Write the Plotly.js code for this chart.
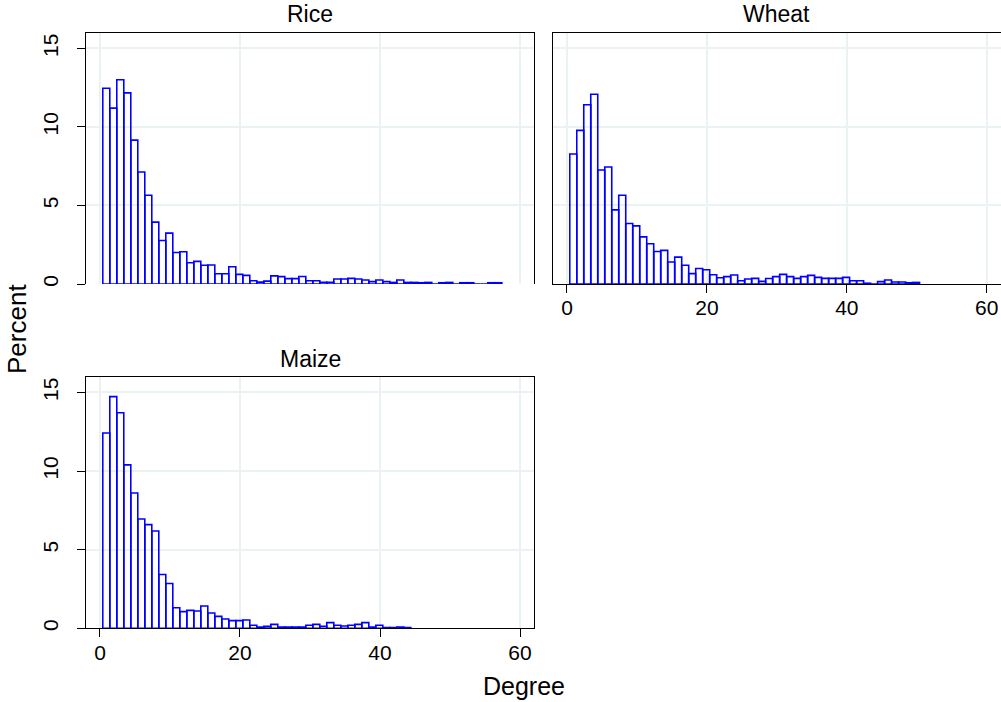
<!DOCTYPE html>
<html>
<head>
<meta charset="utf-8">
<script src="https://cdn.plot.ly/plotly-3.0.1.min.js"></script>
<style>html,body{margin:0;padding:0;background:#fff;}#chart{width:1001px;height:702px;}</style>
</head>
<body>
<div id="chart"></div>
<script>
// ---- data (percent per bin of width 1) ----
var panelNames = ["Rice", "Wheat", "Maize"];
var ricePct = [12.46, 11.2, 13.0, 12.17, 9.16, 7.13, 5.65, 3.94, 2.77, 3.24,
  2.01, 2.05, 1.35, 1.44, 1.19, 1.21, 0.65, 0.65, 1.1, 0.61,
  0.55, 0.21, 0.12, 0.18, 0.52, 0.47, 0.34, 0.34, 0.48, 0.21,
  0.21, 0.11, 0.11, 0.32, 0.32, 0.36, 0.32, 0.25, 0.15, 0.25,
  0.15, 0.1, 0.25, 0.1, 0.1, 0.08, 0.1, 0, 0.08, 0.1,
  0, 0.08, 0.08, 0, 0, 0.08, 0.08];
var wheatPct = [8.28, 9.78, 11.41, 12.08, 7.26, 7.45, 4.72, 5.65, 3.85, 3.70,
  3.0, 2.56, 2.07, 2.14, 1.40, 1.71, 1.19, 0.66, 0.99, 0.91,
  0.59, 0.40, 0.47, 0.57, 0.21, 0.32, 0.36, 0.17, 0.35, 0.47,
  0.61, 0.47, 0.36, 0.47, 0.55, 0.42, 0.36, 0.36, 0.36, 0.42,
  0.21, 0.21, 0.05, 0, 0.15, 0.25, 0.13, 0.13, 0.08, 0.1];
var maizePct = [12.42, 14.73, 13.71, 10.39, 8.6, 6.95, 6.59, 6.19, 3.42, 2.85,
  1.31, 1.06, 1.14, 1.10, 1.42, 0.97, 0.76, 0.59, 0.49, 0.49,
  0.53, 0.19, 0.08, 0.12, 0.25, 0.08, 0.08, 0.08, 0.08, 0.19,
  0.25, 0.13, 0.36, 0.19, 0.15, 0.19, 0.25, 0.36, 0.08, 0.19,
  0.04, 0.04, 0.08, 0.04];
var xTicks = [0, 20, 40, 60];
var yTicks = [0, 5, 10, 15];
var binStart = 0.4, binWidth = 1;

// ---- layout helpers (pixels -> paper fractions) ----
var W = 1001, H = 702;
function fx(px){ return px / W; }
function fy(py){ return 1 - py / H; }
var FONT = "Liberation Sans, Arial, Helvetica, sans-serif";
var BLUE = "#0000ff";
var GRID = "rgb(234,242,243)";

function centers(arr){ return arr.map(function(_, i){ return binStart + (i + 0.5) * binWidth; }); }

function barTrace(vals, xa, ya){
  return {
    type: "bar", x: centers(vals), y: vals, width: binWidth,
    xaxis: xa, yaxis: ya,
    marker: { color: "rgba(255,255,255,0)", line: { color: BLUE, width: 1.6 } },
    hoverinfo: "skip", showlegend: false
  };
}

var data = [
  barTrace(ricePct, "x", "y"),
  barTrace(wheatPct, "x2", "y2"),
  barTrace(maizePct, "x3", "y3")
];

function xAxis(domain, anchor, labels, mirror, side){
  return {
    domain: domain, anchor: anchor, range: [-2.04, 62.04], side: side || "bottom",
    tickvals: xTicks, ticktext: xTicks.map(String),
    showticklabels: labels, ticks: labels ? "outside" : "", ticklen: 8, tickwidth: 1, tickcolor: "#000",
    ticklabelstandoff: -3,
    showgrid: true, gridcolor: GRID, gridwidth: 2,
    showline: true, linecolor: "#000", linewidth: 1, mirror: mirror,
    zeroline: false, fixedrange: true,
    tickfont: { family: FONT, size: 21, color: "#000" }
  };
}
function yAxis(domain, anchor, labels, mirror){
  return {
    domain: domain, anchor: anchor, range: [0, 16],
    tickvals: yTicks, ticktext: yTicks.map(String), tickangle: -90,
    showticklabels: labels, ticks: labels ? "outside" : "", ticklen: 8, tickwidth: 1, tickcolor: "#000",
    ticklabelstandoff: 10,
    showgrid: true, gridcolor: GRID, gridwidth: 2,
    showline: true, linecolor: "#000", linewidth: 1, mirror: mirror,
    zeroline: false, fixedrange: true,
    tickfont: { family: FONT, size: 21, color: "#000" }
  };
}

var leftDom = [fx(85.7), fx(534.3)];
var rightDom = [fx(552.7), 1];
var topDom = [fy(284), fy(32.7)];
var botDom = [fy(628.3), fy(376.7)];

var layout = {
  width: W, height: H,
  margin: { l: 0, r: 0, t: 0, b: 0 },
  paper_bgcolor: "#fff", plot_bgcolor: "#fff",
  font: { family: FONT, color: "#000" },
  bargap: 0,
  xaxis: xAxis(leftDom, "y", false, false, "top"),
  yaxis: yAxis(topDom, "x", true, true),
  xaxis2: xAxis(rightDom, "y2", true, true),
  yaxis2: yAxis(topDom, "x2", false, false),
  xaxis3: xAxis(leftDom, "y3", true, true),
  yaxis3: yAxis(botDom, "x3", true, true),
  annotations: [
    { text: panelNames[0], xref: "paper", yref: "paper", x: fx(310), y: fy(14.5), xanchor: "center", yanchor: "middle", showarrow: false, font: { family: FONT, size: 23, color: "#000" } },
    { text: panelNames[1], xref: "paper", yref: "paper", x: fx(776.9), y: fy(14.5), xanchor: "center", yanchor: "middle", showarrow: false, font: { family: FONT, size: 23, color: "#000" } },
    { text: panelNames[2], xref: "paper", yref: "paper", x: fx(310), y: fy(358.5), xanchor: "center", yanchor: "middle", showarrow: false, font: { family: FONT, size: 23, color: "#000" } },
    { text: "Degree", xref: "paper", yref: "paper", x: fx(524), y: fy(686), xanchor: "center", yanchor: "middle", showarrow: false, font: { family: FONT, size: 25, color: "#000" } },
    { text: "Percent", xref: "paper", yref: "paper", x: fx(17), y: fy(329), xanchor: "center", yanchor: "middle", textangle: -90, showarrow: false, font: { family: FONT, size: 26, color: "#000" } }
  ]
};

Plotly.newPlot("chart", data, layout, { displayModeBar: false, staticPlot: true });
</script>
</body>
</html>
